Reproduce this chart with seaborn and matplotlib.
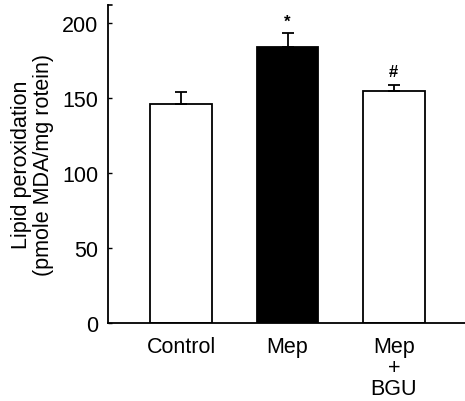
import numpy as np
import pandas as pd
import seaborn as sns
import matplotlib
matplotlib.use("Agg")
import matplotlib.pyplot as plt

# values
groups = ["Control", "Mep", "Mep\n+\nBGU"]
means = [146, 184, 155]
sem = [8, 9.5, 4]
bar_colors = ["white", "black", "white"]
marks = ["", "*", "#"]
mark_y = [0, 196, 163]
yticks = [0, 50, 100, 150, 200]

sns.set_style("white")
plt.rcParams["font.family"] = ["Liberation Sans", "DejaVu Sans"]
plt.rcParams["text.color"] = "black"
plt.rcParams["axes.labelcolor"] = "black"
plt.rcParams["xtick.color"] = "black"
plt.rcParams["ytick.color"] = "black"

df = pd.DataFrame({"group": groups, "value": means})

fig = plt.figure(figsize=(4.65, 4.02), dpi=100)
ax = fig.add_axes([0.232, 0.194, 0.768, 0.791])

sns.barplot(data=df, x="group", y="value", hue="group", palette=bar_colors,
            edgecolor="black", linewidth=1.3, width=0.58, errorbar=None,
            legend=False, ax=ax)

# upper error bars only
ax.errorbar(np.arange(len(groups)), means, yerr=[np.zeros(len(sem)), sem],
            fmt="none", ecolor="black", elinewidth=1.3, capsize=4, capthick=1.3)

for i, (m, my) in enumerate(zip(marks, mark_y)):
    if m:
        ax.text(i, my, m, ha="center", va="bottom", fontsize=12,
                fontweight="bold")

ax.set_xlim(-0.69, 2.67)
ax.set_ylim(0, 212)
ax.set_yticks(yticks)
ax.set_yticklabels([str(t) for t in yticks], fontsize=15.5)
ax.tick_params(axis="y", direction="in", length=3, width=1, pad=7, left=True)
ax.tick_params(axis="x", length=0, pad=9, labelsize=15.5)
for lbl in ax.get_xticklabels():
    lbl.set_linespacing(1.02)
    lbl.set_va("top")

ax.set_xlabel("")
ax.set_ylabel("Lipid peroxidation\n(pmole MDA/mg rotein)", fontsize=15.5,
              linespacing=1.05, labelpad=6)

sns.despine(ax=ax, top=True, right=True)
ax.spines["left"].set_linewidth(1.3)
ax.spines["bottom"].set_linewidth(1.3)
ax.spines["left"].set_color("black")
ax.spines["bottom"].set_color("black")
# small serif at the top of the y axis
ax.plot([0, 0.012], [1, 1], transform=ax.transAxes, color="black",
        lw=1.2, clip_on=False)

fig.savefig("out.png", dpi=100)
